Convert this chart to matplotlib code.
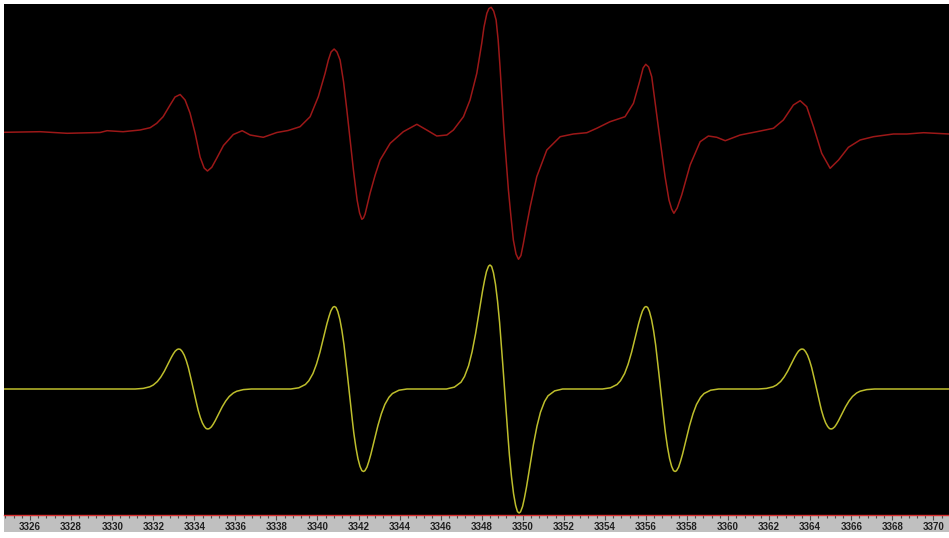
import matplotlib
matplotlib.use('Agg')
import matplotlib.pyplot as plt
from matplotlib.patches import Rectangle
from matplotlib.ticker import MultipleLocator

# field axis (G)
x_min, x_max = 3324.73, 3370.76
tick_values = [3326 + 2 * i for i in range(23)]
tick_labels = [str(v) for v in tick_values]

exp_field = [3324.73, 3326.49, 3327.80, 3329.41, 3329.75, 3330.53, 3331.02, 3331.36, 3331.85, 3332.17,
             3332.48, 3332.82, 3333.06, 3333.31, 3333.55, 3333.79, 3334.04, 3334.28, 3334.48, 3334.64,
             3334.85, 3335.09, 3335.42, 3335.90, 3336.33, 3336.72, 3337.36, 3338.02, 3338.57, 3339.15,
             3339.64, 3340.04, 3340.37, 3340.53, 3340.66, 3340.81, 3340.95, 3341.10, 3341.27, 3341.43,
             3341.59, 3341.75, 3341.93, 3342.05, 3342.16, 3342.24, 3342.32, 3342.56, 3342.81, 3343.05,
             3343.54, 3344.18, 3344.84, 3345.32, 3345.81, 3346.30, 3346.62, 3347.11, 3347.43, 3347.76,
             3348.00, 3348.11, 3348.25, 3348.35, 3348.46, 3348.58, 3348.70, 3348.80, 3348.89, 3349.09,
             3349.30, 3349.42, 3349.54, 3349.67, 3349.79, 3349.91, 3350.03, 3350.18, 3350.36, 3350.68,
             3351.17, 3351.82, 3352.46, 3353.12, 3353.60, 3354.25, 3354.98, 3355.39, 3355.71, 3355.86,
             3355.99, 3356.13, 3356.28, 3356.60, 3356.93, 3357.12, 3357.25, 3357.36, 3357.52, 3357.74,
             3358.15, 3358.64, 3359.04, 3359.45, 3359.86, 3360.59, 3361.40, 3362.21, 3362.69, 3363.18,
             3363.51, 3363.83, 3364.16, 3364.56, 3364.97, 3365.38, 3365.86, 3366.43, 3367.08, 3368.05,
             3368.71, 3369.52, 3370.76]
exp_signal = [-0.3, 0.3, -1.3, -0.5, 1.3, 0.3, 1.3, 2.0, 4.3, 8.7,
              15.3, 27.0, 35.0, 37.5, 32.0, 19.0, -1.3, -25.0, -36.0, -39.0,
              -35.3, -26.3, -13.5, -2.5, 1.3, -3.0, -5.3, -0.5, 1.5, 5.3,
              15.3, 35.3, 58.7, 72.0, 80.0, 83.0, 80.0, 72.0, 50.0, 22.0,
              -8.0, -38.0, -68.0, -81.0, -87.3, -86.0, -82.0, -61.3, -43.0, -28.0,
              -11.3, 0.3, 7.7, 2.0, -4.0, -3.0, 2.0, 15.3, 32.0, 58.7,
              88.7, 105.0, 118.7, 123.5, 124.7, 121.0, 112.0, 92.0, 65.3, -1.3,
              -58.0, -84.0, -108.0, -122.0, -127.3, -123.5, -111.3, -94.0, -74.7, -44.7,
              -18.0, -4.7, -2.0, -0.7, 3.7, 10.3, 15.3, 28.7, 52.0, 64.0,
              67.7, 65.0, 55.3, 5.3, -44.7, -68.0, -77.0, -81.3, -76.0, -63.0,
              -33.0, -9.7, -4.0, -5.3, -8.7, -3.0, 0.3, 3.7, 12.0, 27.0,
              31.3, 25.3, 5.3, -21.3, -36.3, -28.0, -15.3, -8.0, -4.7, -2.0,
              -2.0, -0.7, -2.0]

# simulated spectrum (yellow), five lines
sim1_field = [3331.12, 3331.51, 3331.83, 3332.00, 3332.20, 3332.37, 3332.54, 3332.71, 3332.88, 3332.98,
              3333.07, 3333.17, 3333.24, 3333.32, 3333.41, 3333.51, 3333.61, 3333.71, 3333.78, 3333.865,
              3333.95, 3334.035, 3334.12, 3334.19, 3334.29, 3334.39, 3334.49, 3334.58, 3334.66, 3334.73,
              3334.83, 3334.92, 3335.02, 3335.19, 3335.36, 3335.53, 3335.70, 3335.90, 3336.07, 3336.39,
              3336.78]
sim1_signal = [0, 0.6, 2.2, 4.0, 7.5, 12.0, 17.8, 24.7, 31.6, 35.2,
               37.9, 39.6, 40.0, 39.6, 37.5, 33.8, 28.3, 21.4, 15.4, 7.9,
               0, -7.9, -15.4, -21.4, -28.3, -33.8, -37.5, -39.6, -40.0, -39.6,
               -37.9, -35.2, -31.6, -24.7, -17.8, -12.0, -7.5, -4.0, -2.2, -0.6,
               0]
sim2_field = [3338.70, 3339.09, 3339.41, 3339.58, 3339.78, 3339.95, 3340.12, 3340.29, 3340.46, 3340.56,
              3340.65, 3340.75, 3340.82, 3340.90, 3340.99, 3341.09, 3341.19, 3341.29, 3341.36, 3341.445,
              3341.53, 3341.615, 3341.70, 3341.77, 3341.87, 3341.97, 3342.07, 3342.16, 3342.24, 3342.31,
              3342.41, 3342.50, 3342.60, 3342.77, 3342.94, 3343.11, 3343.28, 3343.48, 3343.65, 3343.97,
              3344.36]
sim2_signal = [0, 1.2, 4.5, 8.3, 15.5, 24.8, 36.8, 50.9, 65.3, 72.5,
               78.1, 81.7, 82.5, 81.6, 77.4, 69.6, 58.4, 44.2, 31.8, 16.3,
               0, -16.3, -31.8, -44.2, -58.4, -69.6, -77.4, -81.6, -82.5, -81.7,
               -78.1, -72.5, -65.3, -50.9, -36.8, -24.8, -15.5, -8.3, -4.5, -1.2,
               0]
sim3_field = [3346.28, 3346.67, 3346.99, 3347.16, 3347.36, 3347.53, 3347.70, 3347.87, 3348.04, 3348.14,
              3348.23, 3348.33, 3348.40, 3348.48, 3348.57, 3348.67, 3348.77, 3348.87, 3348.94, 3349.025,
              3349.11, 3349.195, 3349.28, 3349.35, 3349.45, 3349.55, 3349.65, 3349.74, 3349.82, 3349.89,
              3349.99, 3350.08, 3350.18, 3350.35, 3350.52, 3350.69, 3350.86, 3351.06, 3351.23, 3351.55,
              3351.94]
sim3_signal = [0, 1.9, 6.8, 12.5, 23.3, 37.2, 55.3, 76.5, 98.1, 109.0,
               117.4, 122.8, 124.0, 122.6, 116.3, 104.7, 87.8, 66.5, 47.9, 24.6,
               0, -24.6, -47.9, -66.5, -87.8, -104.7, -116.3, -122.6, -124.0, -122.8,
               -117.4, -109.0, -98.1, -76.5, -55.3, -37.2, -23.3, -12.5, -6.8, -1.9,
               0]
sim4_field = [3353.88, 3354.27, 3354.59, 3354.76, 3354.96, 3355.13, 3355.30, 3355.47, 3355.64, 3355.74,
              3355.83, 3355.93, 3356.00, 3356.08, 3356.17, 3356.27, 3356.37, 3356.47, 3356.54, 3356.625,
              3356.71, 3356.795, 3356.88, 3356.95, 3357.05, 3357.15, 3357.25, 3357.34, 3357.42, 3357.49,
              3357.59, 3357.68, 3357.78, 3357.95, 3358.12, 3358.29, 3358.46, 3358.66, 3358.83, 3359.15,
              3359.54]
sim4_signal = [0, 1.2, 4.5, 8.3, 15.5, 24.8, 36.8, 50.9, 65.3, 72.5,
               78.1, 81.7, 82.5, 81.6, 77.4, 69.6, 58.4, 44.2, 31.8, 16.3,
               0, -16.3, -31.8, -44.2, -58.4, -69.6, -77.4, -81.6, -82.5, -81.7,
               -78.1, -72.5, -65.3, -50.9, -36.8, -24.8, -15.5, -8.3, -4.5, -1.2,
               0]
sim5_field = [3361.48, 3361.87, 3362.19, 3362.36, 3362.56, 3362.73, 3362.90, 3363.07, 3363.24, 3363.34,
              3363.43, 3363.53, 3363.60, 3363.68, 3363.77, 3363.87, 3363.97, 3364.07, 3364.14, 3364.225,
              3364.31, 3364.395, 3364.48, 3364.55, 3364.65, 3364.75, 3364.85, 3364.94, 3365.02, 3365.09,
              3365.19, 3365.28, 3365.38, 3365.55, 3365.72, 3365.89, 3366.06, 3366.26, 3366.43, 3366.75,
              3367.14]
sim5_signal = [0, 0.6, 2.2, 4.0, 7.5, 12.0, 17.8, 24.7, 31.6, 35.2,
               37.9, 39.6, 40.0, 39.6, 37.5, 33.8, 28.3, 21.4, 15.4, 7.9,
               0, -7.9, -15.4, -21.4, -28.3, -33.8, -37.5, -39.6, -40.0, -39.6,
               -37.9, -35.2, -31.6, -24.7, -17.8, -12.0, -7.5, -4.0, -2.2, -0.6,
               0]
sim_offset = -257

sim_field = [x_min] + sim1_field + sim2_field + sim3_field + sim4_field + sim5_field + [x_max]
sim_signal = [0] + sim1_signal + sim2_signal + sim3_signal + sim4_signal + sim5_signal + [0]

fig = plt.figure(figsize=(9.49, 5.38), dpi=100)
fig.patch.set_facecolor('white')

# grey strip under the plot for the tick labels
fig.patches.append(Rectangle((4 / 949, 6 / 538), 945 / 949, 17 / 538,
                             transform=fig.transFigure, facecolor='#c0c0c0',
                             edgecolor='none', zorder=-1))

ax = fig.add_axes([4 / 949, 23 / 538, 945 / 949, 511 / 538])
ax.set_facecolor('black')

ax.plot(exp_field, exp_signal, color='#9c1818', lw=1.1)
ax.plot(sim_field, [v + sim_offset for v in sim_signal], color='#bebe2c', lw=1.1)

ax.set_xlim(x_min, x_max)
ax.set_ylim(-383, 128)

for s in ['top', 'left', 'right']:
    ax.spines[s].set_visible(False)
ax.spines['bottom'].set_color('#d83030')
ax.spines['bottom'].set_linewidth(1.0)

ax.set_yticks([])
ax.set_xticks(tick_values)
ax.set_xticklabels(tick_labels)
ax.xaxis.set_minor_locator(MultipleLocator(0.4))
ax.tick_params(axis='x', which='major', direction='out', length=3.6, width=0.8,
               color='#505050', pad=1.2, labelsize=7, labelcolor='#202020')
ax.tick_params(axis='x', which='minor', direction='out', length=2.2, width=0.8,
               color='#505050')
for lab in ax.get_xticklabels():
    lab.set_fontfamily('Liberation Sans')
    lab.set_fontweight('bold')

fig.savefig('out.png', dpi=100, facecolor='white')
